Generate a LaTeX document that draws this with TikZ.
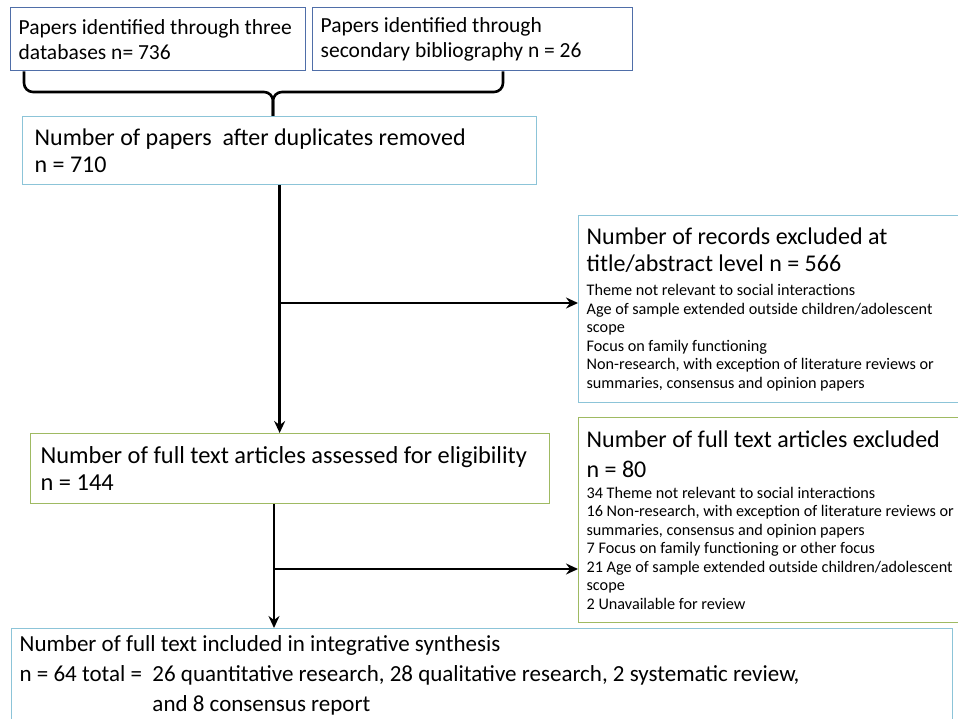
\documentclass[tikz,border=0pt]{standalone}
\usepackage{fontspec}
\setmainfont{Carlito}
\usetikzlibrary{arrows.meta,calc,positioning}
\definecolor{prblue}{HTML}{4F6EA8}
\definecolor{prlightblue}{HTML}{8CC4D8}
\definecolor{prgreen}{HTML}{9FBA62}
\newcommand{\headfont}{\fontsize{24}{27}\selectfont}
\newcommand{\listfont}{\fontsize{16.2}{18.5}\selectfont}

\begin{document}
\begin{tikzpicture}[x=1pt, y=-1pt,
  box/.style={draw, line width=1.3pt, fill=white, anchor=north west,
              inner xsep=8pt, inner ysep=0pt, align=flush left},
  source/.style={box, draw=prblue, minimum height=63pt,
                 font=\fontsize{21.5}{25}\selectfont},
  stage/.style={box, draw=prlightblue, font=\headfont},
  exclude/.style={box, draw=prgreen, font=\headfont},
  arrow/.style={-{Stealth[length=12pt, width=11pt, inset=4pt]}, line width=2.6pt},
  brace/.style={line width=2.6pt, rounded corners=9pt},
]
  \useasboundingbox (0,0) rectangle (958,719);
  \clip (0,0) rectangle (958,719);

  % Identification.
  \node[source, text width=279pt] (databases) at (10,7)
    {Papers identified through three\\databases n= 736};
  \node[source, text width=304pt] (secondary) at (312,7)
    {Papers identified through\\secondary bibliography n = 26};
  \node[stage, text width=490pt, minimum height=68pt, inner xsep=12pt] (removed) at (22,116)
    {Number of papers\ \ after duplicates removed\\n = 710};
  \coordinate (join) at (273,92);
  \draw[brace] ([xshift=14pt]databases.south west) |- (join) -- (join |- removed.north);
  \draw[brace] ([xshift=191pt]secondary.south west) |- (join) -- (join |- removed.north);

  % Screening.
  \node[stage, text width=374pt, minimum height=187pt] (screened) at (578,215)
    {Number of records excluded at\\title/abstract level n = 566\par
     \vspace{6pt}\listfont Theme not relevant to social interactions\\
     Age of sample extended outside children/adolescent\\scope\\
     Focus on family functioning\\
     Non-research, with exception of literature reviews or\\
     summaries, consensus and opinion papers\par};
  \node[exclude, text width=499pt, minimum height=70pt, inner xsep=10pt,
        font=\fontsize{24.4}{27}\selectfont] (eligible) at (30,433)
    {Number of full text articles assessed for eligibility\\n = 144};
  \coordinate (fork1) at (279,303);
  \draw[arrow] (removed.south) -- (removed.south |- eligible.north);
  \draw[arrow] (fork1) -- (fork1 -| screened.west);

  % Eligibility.
  \node[exclude, text width=374pt, minimum height=205pt,
        font=\fontsize{24}{30}\selectfont] (fulltext) at (578,417)
    {Number of full text articles excluded\\n = 80\par
     \vspace{2pt}\listfont 34 Theme not relevant to social interactions\\
     16 Non-research, with exception of literature reviews or\\
     summaries, consensus and opinion papers\\
     7 Focus on family functioning or other\ focus\\
     21 Age of sample extended outside children/adolescent\\scope\\
     2 Unavailable for review\par};

  % Included.
  \node[stage, text width=925pt, minimum height=94pt,
        font=\fontsize{23}{30}\selectfont] (included) at (11,628)
    {Number of full text included in integrative synthesis\\
     n = 64 total =\ \ 26 quantitative research, 28 qualitative research, 2 systematic review,\\
     \phantom{n = 64 total =\ \ }and 8 consensus report};
  \coordinate (fork2) at (274,569);
  \draw[arrow] (fork2 |- eligible.south) -- (fork2 |- included.north);
  \draw[arrow] (fork2) -- (fork2 -| fulltext.west);
\end{tikzpicture}
\end{document}
